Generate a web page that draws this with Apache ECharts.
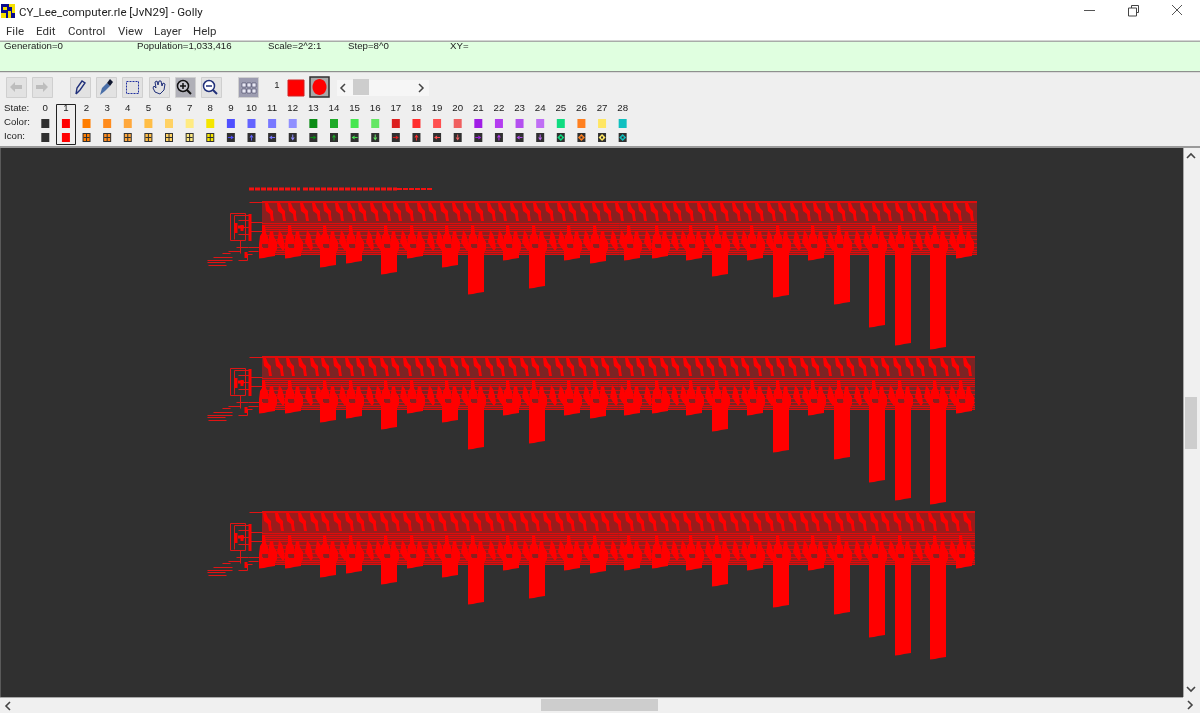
<!DOCTYPE html>
<html><head><meta charset="utf-8">
<style>html,body{margin:0;padding:0;background:#fff}#c{width:1200px;height:713px;filter:blur(0.3px)}</style>
<script src="https://cdn.jsdelivr.net/npm/echarts@6/dist/echarts.min.js"></script>
</head><body><div id="c"></div>
<script>
// ---- data ----
const titleText = 'CY_Lee_computer.rle [JvN29] - Golly';
const menuLabels = ['File','Edit','Control','View','Layer','Help'];
const statusLabels = ['Generation=0','Population=1,033,416','Scale=2^2:1','Step=8^0','XY='];
const stateLabels = ['0','1','2','3','4','5','6','7','8','9','10','11','12','13','14','15','16','17','18','19','20','21','22','23','24','25','26','27','28'];
const stateColors = ['#303030','#ff0000','#ff7d00','#ff8c1e','#ffa83c','#ffbe46','#ffd264','#ffeb82','#f5e600','#5050ff','#6464ff','#7878ff','#9090ff','#0a8c14','#1eaa28','#46e650','#64e664','#dc2020','#ff2d2d','#ff5050','#f06060','#a01ee6','#b43cf0','#b450f0','#c06ef5','#10dc80','#ff8020','#ffe664','#10c0c0'];
const rowTops = [201, 356, 511];
const rowShift = [2, 0, 0];
const rowBand = ['#8a2020', '#7c2424', '#9a1c1c'];
const barX = [259,285,320,346,381,407,442,468,503,529,564,590,624,652,686,712,747,773,808,834,869,895,930,956];
const barDepth = [57,57,66,62,73,57,66,93,59,87,59,62,59,57,59,75,59,96,59,103,126,144,148,57];
const upperTeethX = [263,275,286,298,310,321,333,345,356,368,380,391,403,415,426,438,450,461,473,485,496,508,520,531,543,555,566,578,590,601,613,625,636,648,660,671,683,695,706,718,730,741,753,765,776,788,800,811,823,835,846,858,870,881,893,905,916,928,940,951,963];
const lowerTeethX = [276,304,314,338,365,374,399,426,435,460,487,496,521,548,557,582,609,618,643,670,679,704,731,740,765,792,801,826,853,862,887,914,923,948];
const busLines = [0,1,22,24,26,28,30,34,38,42,46,49,51,53];
const controlWires = [
  [230,12,230,39],[230,12,245,12],[245,12,245,39],[230,39,245,39],[234,14,234,38],[234,14,250,14],
  [238,19,250,19],[238,26,250,26],[238,33,250,33],[240,39,240,52],[236,46,248,46],[248,46,262,46],
  [250,21,262,21],[250,30,262,30],[248,50,258,50],[222,52,230,52],[228,50,240,50],[213,56,232,56],
  [207,59,232,59],[207,61,225,61],[208,64,226,64],[238,59,247,59],[247,53,247,59],[245,53,252,53],[249,1,262,1]
];
const controlHeavy = [[250,13,250,40],[236,22,236,32],[242,24,242,30],[246,51,246,57],[238,26,244,26]];
const tapeSegments = [[249,300,3],[303,397,3],[397,433,2]];
const tapeY = 189;

// ---- helpers for marks (all through the axes) ----
const SHAPES = {
  upper: [[0,2],[3,2],[5,7],[8,10],[8,14],[9,20],[6,20],[5,13],[1,10]],
  lower: [[3,29],[6,33],[8,40],[9,47],[7,50],[4,46],[1,41],[2,36]],
  spikeA: [[3,24],[6,24],[7,32],[9,36],[10,43],[0,43],[1,35],[3,32]],
  spikeB: [[11,30],[14,30],[15,36],[18,41],[18,48],[16,52],[10,52],[9,43]],
  wall: [[0,43],[3,43],[3,50],[0,50]],
  hole: [[4,43],[9,43],[9,47],[4,47]]
};
function shapeSeries(name, rows, shape, color, z) {
  return { type:'custom', name, silent:true, z, clip:false, data:rows,
    renderItem(p, api){
      const x = api.value(0), y = api.value(1);
      return { type:'polygon', shape:{points:shape.map(q=>api.coord([x+q[0], y+q[1]]))}, style:{fill:color} };
    } };
}
function cross(xs, tops, shift){
  const r=[]; tops.forEach((t,i)=>xs.forEach(x=>r.push([x+(shift?shift[i]:0),t]))); return r;
}
const bandRows = rowTops.map((t,i)=>[262, 975+rowShift[i], t, t+54, i]);
const lineRows = []; rowTops.forEach((t,i)=>busLines.forEach(b=>lineRows.push([262, 975+rowShift[i], t+b])));
const barRows = []; rowTops.forEach(t=>barX.forEach((x,k)=>barRows.push([x,t,barDepth[k]])));
const wireRows = []; rowTops.forEach(t=>controlWires.forEach(w=>wireRows.push([w[0],t+w[1],w[2],t+w[3]])));
const heavyRows = []; rowTops.forEach(t=>controlHeavy.forEach(w=>heavyRows.push([w[0],t+w[1],w[2],t+w[3]])));

const series = [
  { type:'custom', name:'bands', silent:true, z:2, data:bandRows, renderItem(p,api){
      const a=api.coord([api.value(0),api.value(2)]), b=api.coord([api.value(1),api.value(3)]);
      return {type:'rect',shape:{x:a[0],y:a[1],width:b[0]-a[0],height:b[1]-a[1]},style:{fill:rowBand[api.value(4)]}};
  }},
  { type:'custom', name:'bus', silent:true, z:3, data:lineRows, renderItem(p,api){
      const a=api.coord([api.value(0),api.value(2)]), b=api.coord([api.value(1),api.value(2)]);
      return {type:'line',shape:{x1:a[0],y1:a[1]+.5,x2:b[0],y2:b[1]+.5},style:{stroke:'#e00c0c',lineWidth:1}};
  }},
  { type:'custom', name:'wires', silent:true, z:3, data:wireRows, renderItem(p,api){
      const a=api.coord([api.value(0),api.value(1)]), b=api.coord([api.value(2),api.value(3)]);
      return {type:'line',shape:{x1:a[0]+.5,y1:a[1]+.5,x2:b[0]+.5,y2:b[1]+.5},style:{stroke:'#e01414',lineWidth:1}};
  }},
  { type:'custom', name:'wiresHeavy', silent:true, z:3, data:heavyRows, renderItem(p,api){
      const a=api.coord([api.value(0),api.value(1)]), b=api.coord([api.value(2),api.value(3)]);
      return {type:'line',shape:{x1:a[0],y1:a[1],x2:b[0],y2:b[1]},style:{stroke:'#ff0000',lineWidth:3}};
  }},
  { type:'custom', name:'tape', silent:true, z:3, data:tapeSegments, renderItem(p,api){
      const a=api.coord([api.value(0),tapeY]), b=api.coord([api.value(1),tapeY]);
      return {type:'line',shape:{x1:a[0],y1:a[1],x2:b[0],y2:b[1]},style:{stroke:'#f41010',lineWidth:api.value(2),lineDash:[5,1]}};
  }},
  { type:'custom', name:'columns', silent:true, z:4, data:barRows, renderItem(p,api){
      const x=api.value(0), t=api.value(1), d=api.value(2);
      const pts=[[x,t+47],[x+16,t+47],[x+16,t+d-2],[x+9,t+d-1],[x+5,t+d],[x,t+d+0.5]];
      return {type:'polygon',shape:{points:pts.map(q=>api.coord(q))},style:{fill:'#ff0000'}};
  }},
  shapeSeries('upperTeeth', cross(upperTeethX,rowTops,rowShift), SHAPES.upper, '#ff0000', 5),
  shapeSeries('lowerTeeth', cross(lowerTeethX,rowTops), SHAPES.lower, '#ff0000', 5),
  shapeSeries('spikeA', cross(barX,rowTops), SHAPES.spikeA, '#ff0000', 5),
  shapeSeries('spikeB', cross(barX,rowTops), SHAPES.spikeB, '#ff0000', 5),
  shapeSeries('wall', cross(barX,rowTops), SHAPES.wall, '#ff0000', 5),
  shapeSeries('holes', cross(barX,rowTops), SHAPES.hole, '#8a2020', 6)
];

// ---- window chrome ----
const g = [];
const R=(x,y,w,h,fill,stroke,lw)=>g.push({type:'rect',silent:true,shape:{x,y,width:w,height:h},style:{fill:fill||'none',stroke:stroke||null,lineWidth:lw||1}});
const T=(x,y,text,font,fill,align)=>g.push({type:'text',silent:true,x,y,style:{text,font,fill:fill||'#222',align:align||'left',verticalAlign:'middle'}});
const L=(pts,stroke,lw)=>g.push({type:'polyline',silent:true,shape:{points:pts},style:{stroke:stroke||'#444',lineWidth:lw||1,fill:'none'}});
const P=(pts,fill)=>g.push({type:'polygon',silent:true,shape:{points:pts},style:{fill}});

R(0,0,1200,41,'#ffffff');
R(0,41,1200,30,'#e0ffe0');
R(0,40.5,1200,1.5,'#a8aca8');
R(0,71,1200,1.5,'#8e908e');
R(0,72.5,1200,74,'#efefef');
R(0,146,1200,2,'#9a9a9a');
R(1183,148,17,565,'#f0f0f0');
R(0,697,1200,16,'#f0f0f0');
R(0,697,1183,1,'#a8a8a8');
R(1183,148,1,549,'#a8a8a8');
R(0,148,1,549,'#5a5a5a');

// title bar
R(1,4,14,14,'#0a0a8c');
R(9,4,6,3,'#f5e000'); R(12,4,3,9,'#f5e000'); R(1,13,5,5,'#f5e000'); R(3,7,4,3,'#f5e000'); R(8,11,3,7,'#f5e000');
T(19,13,titleText,'11.5px Roboto','#222');
const menuX=[6,36,68,118,154,193];
menuLabels.forEach((m,i)=>T(menuX[i],32,m,'11.5px Roboto','#333'));
L([[1084,10.5],[1095,10.5]],'#555');
R(1131.5,5.5,7,7,null,'#444'); R(1128.5,8,8,8,'#fff','#444');
L([[1172,5],[1182,15]],'#555'); L([[1182,5],[1172,15]],'#555');

// status
const statusX=[4,137,268,348,450];
statusLabels.forEach((s,i)=>T(statusX[i],46.5,s,'9.7px "Liberation Sans"','#222'));

// toolbar
const btnX=[6,32,70,96,122,149,175,201,238];
btnX.forEach((x,i)=>{
  const dark=i==6?'#b0b0b8':(i==8?'#9c9cb0':'#e2e2e2');
  R(x+.5,77.5,20,20,dark,'#cfcfcf');
});
P([[10,87],[15,82],[15,85],[22,85],[22,89],[15,89],[15,92]],'#bdbdbd');
P([[48,87],[43,82],[43,85],[36,85],[36,89],[43,89],[43,92]],'#bdbdbd');
L([[76,94],[77,88],[82,81],[85,83],[80,90],[76,94]],'#20307a',1.4);
P([[100,95],[102,88],[107,83],[110,86],[105,91]],'#4a6fa8');
P([[107,83],[110,79],[113,82],[110,86]],'#101830');
g.push({type:'rect',silent:true,shape:{x:126.5,y:81.5,width:12,height:12},style:{fill:'none',stroke:'#2030a0',lineDash:[2,1]}});
L([[153,88],[155,92],[160,94],[164,90],[165,84],[163,83],[162,86],[161,81],[159,81],[158,85],[157,81],[155,82],[156,88],[154,86],[153,88]],'#20307a',1);
[[183,87,'#111'],[209,87,'#20307a']].forEach((a,i)=>{
  g.push({type:'circle',silent:true,shape:{cx:a[0],cy:a[1]-1,r:5.5},style:{fill:i?'#fff':'#c8c8d0',stroke:a[2],lineWidth:1.5}});
  L([[a[0]+4,a[1]+3],[a[0]+8,a[1]+7]],a[2],2);
  L([[a[0]-3,a[1]-1],[a[0]+3,a[1]-1]],a[2],1.5);
  if(!i) L([[a[0],a[1]-4],[a[0],a[1]+2]],a[2],1.5);
});
[[242,83],[247,83],[252,83],[242,89],[247,89],[252,89]].forEach(q=>R(q[0],q[1],4,4,'#e8e8f4','#303050',.5));
T(277,85,'1','9.5px "Liberation Sans"','#222','center');
R(288,80,16,16,'#ff0000','#d02020');
R(310,77,19,20,'#a8a8a8','#303030',1.5);
g.push({type:'ellipse',silent:true,shape:{cx:319.5,cy:87,rx:7,ry:8},style:{fill:'#ff0000'}});
R(337,80,92,16,'#f6f6f6');
L([[345,84],[341,88],[345,92]],'#444',1.5);
L([[419,84],[423,88],[419,92]],'#444',1.5);
R(353,79,16,16,'#cdcdcd');

// state palette
const stateCX=i=>45.3+20.62*i;
T(4,108,'State:','9.7px "Liberation Sans"','#222');
T(4,122,'Color:','9.7px "Liberation Sans"','#222');
T(4,136,'Icon:','9.7px "Liberation Sans"','#222');
R(56.5,104.5,19,40,null,'#222',1);
stateLabels.forEach((s,i)=>{
  const cx=stateCX(i), c=stateColors[i];
  T(cx,108.5,s,'9.7px "Liberation Sans"','#222','center');
  R(cx-4,119,8,9,c);
  if(i==0){R(cx-4,133,8,9,c);return;}
  if(i==1){R(cx-4,133,8,9,c);return;}
  R(cx-4,133,8,9,'#303030');
  if(i<=8){
    R(cx-3,134,6,7,c);
    L([[cx,134],[cx,141]],'#303030',1); L([[cx-3,137.5],[cx+3,137.5]],'#303030',1);
  } else if(i<=24){
    const d=(i-9)%4;
    const arrows=[[[-3,0],[0,0],[0,-2],[3,0],[0,2],[0,0]],[[0,3],[0,0],[-2,0],[0,-3],[2,0],[0,0]],[[3,0],[0,0],[0,-2],[-3,0],[0,2],[0,0]],[[0,-3],[0,0],[-2,0],[0,3],[2,0],[0,0]]][d];
    P(arrows.map(q=>[cx+q[0],137.5+q[1]]),c);
    L([[cx+arrows[0][0],137.5+arrows[0][1]],[cx,137.5]],c,1);
  } else {
    P([[cx,134],[cx+3.5,137.5],[cx,141],[cx-3.5,137.5]],c);
    R(cx-1,136.5,2,2,'#303030');
  }
});

// scrollbars
R(1185,397,12,52,'#cdcdcd');
R(541,699,117,12,'#cdcdcd');
L([[1187,158],[1191,154],[1195,158]],'#444',1.6);
L([[1187,687],[1191,691],[1195,687]],'#444',1.6);
L([[10,702],[6,706],[10,710]],'#444',1.6);
L([[1188,701],[1192,705],[1188,709]],'#444',1.6);

const chart = echarts.init(document.getElementById('c'), null, {renderer:'canvas'});
chart.setOption({
  animation:false,
  backgroundColor:'#ffffff',
  grid:{left:0,top:148,width:1183,height:549,show:false},
  xAxis:{type:'value',min:0,max:1183,show:false},
  yAxis:{type:'value',min:148,max:697,inverse:true,show:false},
  graphic:[
    {type:'rect',silent:true,z:-1,shape:{x:0,y:148,width:1183,height:549},style:{fill:'#303030'}},
    {type:'group',silent:true,z:0,children:g}
  ],
  series
});
</script></body></html>
